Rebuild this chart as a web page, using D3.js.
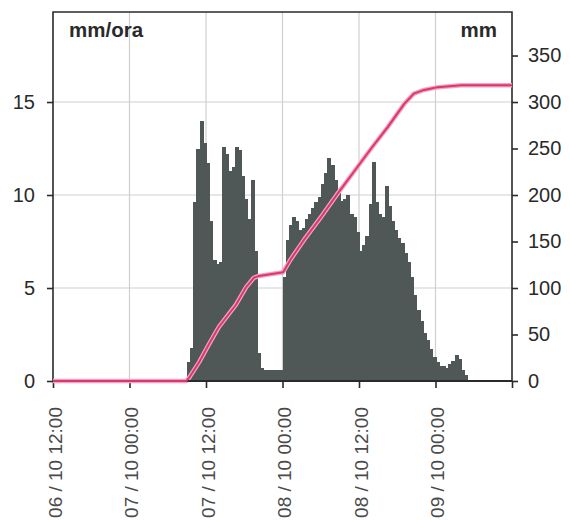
<!doctype html>
<html lang="it">
<head>
<meta charset="utf-8">
<title>Pioggia</title>
<script src="https://cdn.jsdelivr.net/npm/d3@7"></script>
<style>
  body { margin: 0; background: #fff; }
  text { font-family: "Liberation Sans", Arial, sans-serif; }
</style>
</head>
<body>
<svg id="chart" width="570" height="520"></svg>
<script>
// intensita di pioggia ogni mezz'ora (mm/ora), dalla 21a ora dopo 06/10 12:00
var rainStartHour = 21;
var rainStep = 0.5;
var rainRate = [
  1.0, 1.8, 9.6, 12.5, 14.0, 12.8, 11.7, 8.6, 6.5, 6.3,
  6.4, 12.6, 12.2, 11.3, 11.5, 12.6, 12.4, 11.0, 9.8, 8.7,
  10.8, 7.0, 1.5, 0.7, 0.6, 0.6, 0.6, 0.6, 0.6, 0.6,
  5.6, 7.6, 8.4, 8.8, 8.6, 8.1, 8.2, 8.7, 9.0, 9.3,
  9.6, 9.9, 10.6, 11.2, 12.0, 11.6, 10.8, 10.1, 9.7, 9.8,
  10.0, 9.0, 8.8, 8.0, 7.0, 7.3, 7.8, 9.5, 11.8, 9.6,
  9.0, 8.8, 10.5, 9.4, 8.6, 8.1, 7.7, 7.4, 6.9, 6.4,
  5.6, 4.6, 3.8, 3.2, 2.6, 2.2, 1.7, 1.3, 1.0, 0.8,
  0.8, 0.7, 0.9, 1.1, 1.4, 1.2, 0.6, 0.3
];

// pioggia cumulata (mm)
var cumHours = [0, 20.9, 21.3, 22.9, 24.5, 26.0, 28.7, 30.3, 31.5, 32.3, 36.1, 37.3,
  39.4, 42.0, 44.7, 47.2, 49.9, 52.5, 55.1, 56.6, 58.2, 60.4, 64.0, 72];
var cumMm = [0, 0, 3, 20, 40, 58, 82, 101, 111, 113, 117, 131,
  152, 176, 202, 225, 250, 273, 298, 309, 313, 316, 318, 318];

var xTickHours = [0, 12, 24, 36, 48, 60, 72];
var xTickLabels = ["06 / 10 12:00", "07 / 10 00:00", "07 / 10 12:00",
  "08 / 10 00:00", "08 / 10 12:00", "09 / 10 00:00", ""];
var leftTicks = [0, 5, 10, 15];
var rightTicks = [0, 50, 100, 150, 200, 250, 300, 350];

var plotLeft = 53, plotRight = 512, plotTop = 12, plotBottom = 381;

var svg = d3.select("#chart");

var x = d3.scaleLinear().domain([0, 72]).range([plotLeft, plotRight]);
var yRate = d3.scaleLinear().domain([0, 19.84]).range([plotBottom, plotTop]);
var yCum = d3.scaleLinear().domain([0, 396.8]).range([plotBottom, plotTop]);

// griglia
svg.append("g").selectAll("line").data(xTickHours.slice(1, 6)).enter().append("line")
  .attr("x1", function(d) { return x(d); }).attr("x2", function(d) { return x(d); })
  .attr("y1", plotTop).attr("y2", plotBottom)
  .style("stroke", "#cfcfcf").style("stroke-width", 1.2);
svg.append("g").selectAll("line").data(leftTicks.slice(1)).enter().append("line")
  .attr("x1", plotLeft).attr("x2", plotRight)
  .attr("y1", function(d) { return yRate(d); }).attr("y2", function(d) { return yRate(d); })
  .style("stroke", "#cfcfcf").style("stroke-width", 1.2);

// barre
svg.append("g").attr("shape-rendering", "crispEdges")
  .selectAll("rect").data(rainRate).enter().append("rect")
  .attr("x", function(d, i) { return x(rainStartHour + i * rainStep); })
  .attr("width", x(rainStep) - x(0) + 1)
  .attr("y", function(d) { return yRate(d); })
  .attr("height", function(d) { return plotBottom - yRate(d); })
  .style("fill", "#4f5856");

// cornice
svg.append("path")
  .attr("d", "M" + plotLeft + "," + plotBottom + "V" + plotTop + "H" + plotRight + "V" + plotBottom)
  .style("fill", "none").style("stroke", "#2a2a2a").style("stroke-width", 1.6);

// assi
var xAxis = svg.append("g").attr("transform", "translate(0," + plotBottom + ")")
  .call(d3.axisBottom(x).tickValues(xTickHours).tickSize(7).tickFormat(""));
xAxis.selectAll(".tick text").remove();

var leftAxis = svg.append("g").attr("transform", "translate(" + plotLeft + ",0)")
  .call(d3.axisLeft(yRate).tickValues(leftTicks).tickSize(6).tickPadding(12));
var rightAxis = svg.append("g").attr("transform", "translate(" + plotRight + ",0)")
  .call(d3.axisRight(yCum).tickValues(rightTicks).tickSize(6).tickPadding(10));

[xAxis, leftAxis, rightAxis].forEach(function(a) {
  a.select(".domain").remove();
  a.selectAll(".tick line").style("stroke", "#2a2a2a").style("stroke-width", 1.6);
  a.selectAll(".tick text").style("font-size", "20px").style("fill", "#2a2a2a");
});

// cumulata
var line = d3.line()
  .x(function(d, i) { return x(cumHours[i]); })
  .y(function(d) { return yCum(d); });
svg.append("path").datum(cumMm).attr("d", line)
  .style("fill", "none").style("stroke", "#f2a3bf").style("stroke-width", 4.5)
  .style("stroke-linejoin", "round");

svg.append("line").attr("x1", plotLeft).attr("x2", plotRight).attr("y1", plotBottom).attr("y2", plotBottom)
  .style("stroke", "#2a2a2a").style("stroke-width", 2);

svg.append("path").datum(cumMm).attr("d", line)
  .style("fill", "none").style("stroke", "#dc3672").style("stroke-width", 2)
  .style("stroke-linejoin", "round");

// etichette asse x
svg.append("g").selectAll("text").data(xTickHours).enter().append("text")
  .attr("transform", function(d) { return "translate(" + (x(d) + 2) + ",407) rotate(-90)"; })
  .attr("dy", "0.36em")
  .attr("text-anchor", "end")
  .style("font-size", "19px").style("fill", "#4a4a4a")
  .text(function(d, i) { return xTickLabels[i]; });

// unita
svg.append("text").attr("x", 69).attr("y", 37)
  .style("font-size", "20.5px").style("font-weight", "bold").style("fill", "#2a2a2a")
  .text("mm/ora");
svg.append("text").attr("x", 497).attr("y", 37).attr("text-anchor", "end")
  .style("font-size", "20.5px").style("font-weight", "bold").style("fill", "#2a2a2a")
  .text("mm");
</script>
</body>
</html>
